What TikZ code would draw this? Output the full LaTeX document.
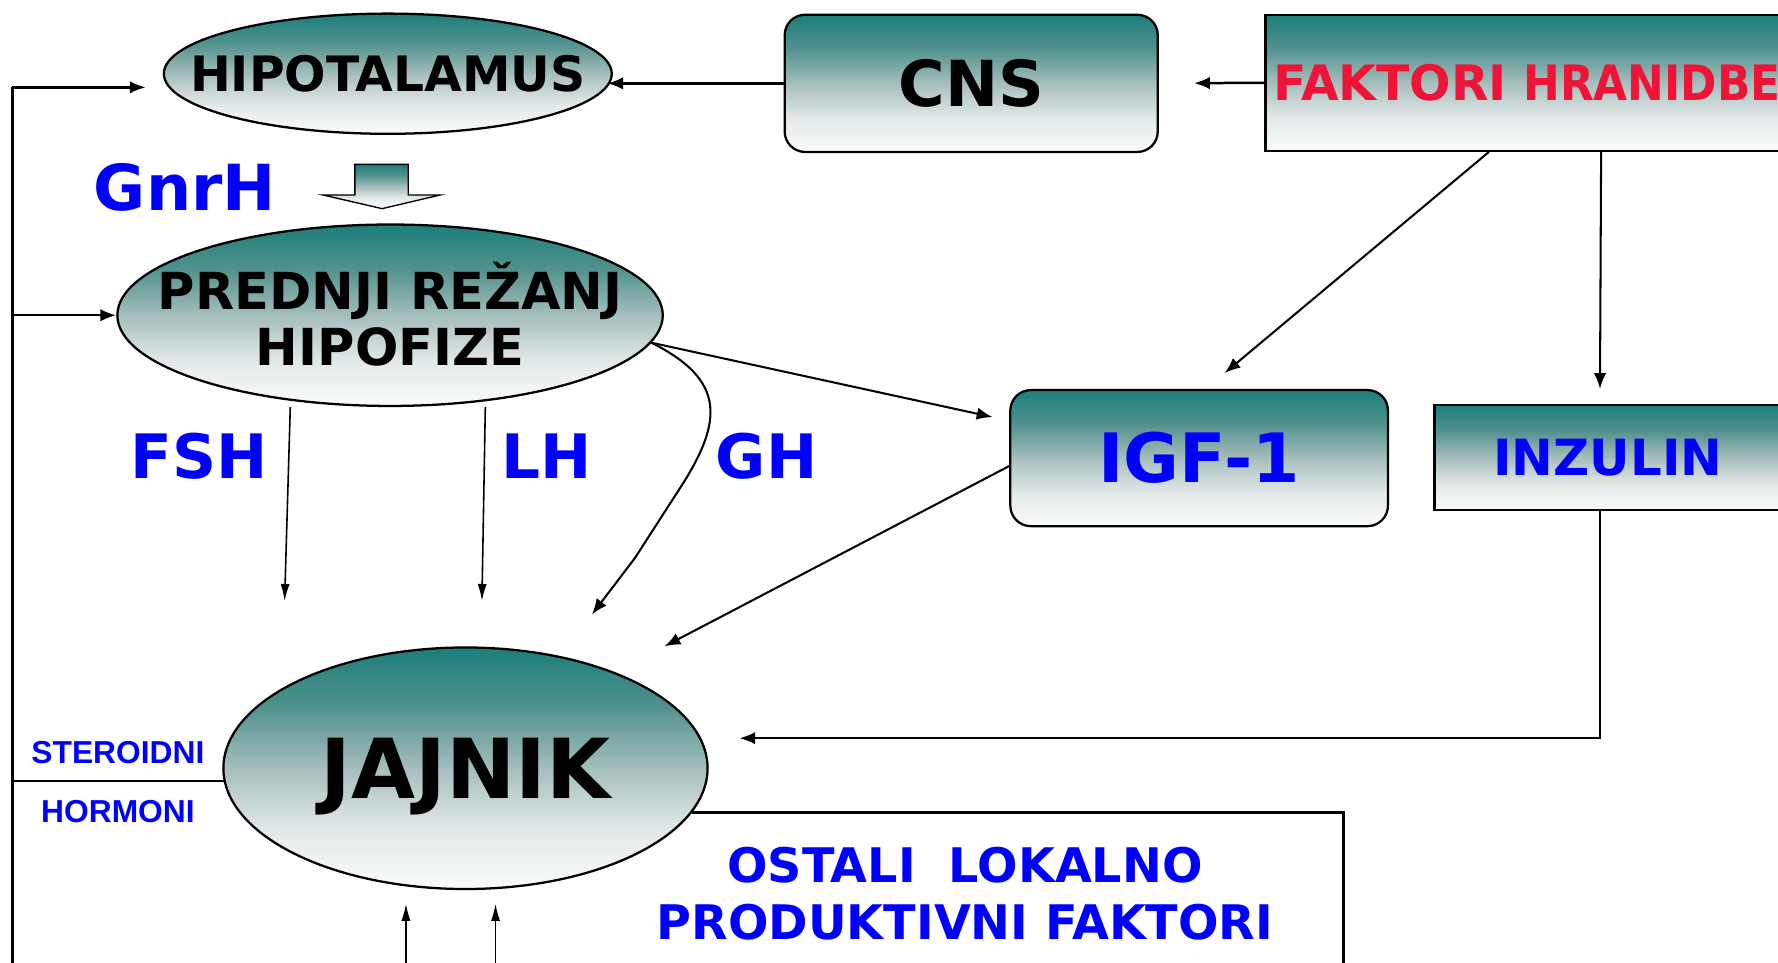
\documentclass[tikz,border=0pt]{standalone}
\usepackage{fontspec}
\setmainfont{DejaVu Sans}
\newfontfamily\arialfont{Liberation Sans}
\newfontfamily\narrowfont{DejaVu Sans}[FakeStretch=0.9]
\usetikzlibrary{shapes.geometric,arrows.meta}

\definecolor{tealtop}{RGB}{28,126,122}
\definecolor{tealq}{RGB}{82,146,142}
\definecolor{tealmid}{RGB}{165,190,188}
\definecolor{teallow}{RGB}{226,232,232}
\definecolor{tealbot}{RGB}{251,252,252}
\definecolor{hblue}{RGB}{0,0,255}
\definecolor{hred}{RGB}{238,20,55}
\newcommand{\setfs}[2]{\bfseries\fontsize{#1}{#2}\selectfont}
\pgfdeclareverticalshading{tealfade}{100bp}{color(0bp)=(tealbot); color(25bp)=(tealbot);
    color(37.5bp)=(teallow); color(50bp)=(tealmid); color(62.5bp)=(tealq);
    color(75bp)=(tealtop); color(100bp)=(tealtop)}

\tikzset{
    shaded/.style={draw, line width=2pt, shading=tealfade},
    ell/.style={shaded, ellipse, inner sep=0pt},
    rbox/.style={shaded, rectangle, rounded corners=18pt, inner sep=0pt},
    sbox/.style={shaded, rectangle, inner sep=0pt},
    hormone/.style={text=hblue, font=\setfs{54}{54}},
    wire/.style={line width=2.2pt},
    midwire/.style={line width=1.8pt},
    finewire/.style={line width=1.4pt},
    arrowtip/.style={-{Latex[length=14pt,width=11pt]}},
    thintip/.style={-{Latex[length=15pt,width=8pt]}}
}

\begin{document}
\begin{tikzpicture}[x=1pt, y=-1pt]
    \clip (0,0) rectangle (1568,849);

    % ellipses
    \node[ell, minimum width=395pt, minimum height=106pt,
        label={[font=\setfs{43}{43}]center:HIPOTALAMUS}] at (342, 65)(hipo){};
    \node[ell, minimum width=481pt, minimum height=160pt,
        label={[font=\setfs{45}{50}, align=center, yshift=1pt]center:PREDNJI REŽANJ\\HIPOFIZE}] at (344, 278)(pred){};
    \node[ell, minimum width=427pt, minimum height=213pt,
        label={[font=\setfs{73}{73}, yshift=-7pt]center:JAJNIK}] at (410.5, 677.5)(jaj){};

    % boxes
    \node[rbox, minimum width=329pt, minimum height=121pt, font=\setfs{56}{56}] at (856.5, 73.5)(cns){CNS};
    \node[sbox, anchor=west, minimum width=490pt, minimum height=120pt, inner xsep=7pt,
        text width=476pt, align=left, text=hred, font=\setfs{43}{43}] at (1115, 73)(fakt){FAKTORI {\narrowfont HRANIDBE}};
    \node[rbox, minimum width=333pt, minimum height=120pt, text=hblue, font=\setfs{60}{60}] at (1057.5, 404)(igf){IGF-1};
    \node[sbox, minimum width=306pt, minimum height=93pt, text=hblue, font=\setfs{44}{44}] at (1418, 403.5)(inz){INZULIN};

    % texts
    \node[text=hblue, font=\setfs{56}{56}] at (163, 165)(gnrh){GnrH};
    \node[hormone] at (176, 402)(fsh){FSH};
    \node[hormone] at (482, 402)(lh){LH};
    \node[hormone] at (676, 402)(gh){GH};
    \node[text=hblue, font=\arialfont\setfs{28}{28}] at (104, 664)(ster){STEROIDNI};
    \node[text=hblue, font=\arialfont\setfs{28}{28}] at (104, 716)(horm){HORMONI};
    \node[text=hblue, align=center, font=\setfs{42}{50}] at (851, 788)(ostali){OSTALI\ \ LOKALNO\\PRODUKTIVNI FAKTORI};

    % GnrH block arrow
    \draw[line width=1.2pt, shading=tealfade]
        (313,145) -- (360,145) -- (360,172) -- (388,172) -- (337,184)
        -- (285,172) -- (313,172) -- cycle;

    % free ends
    \coordinate (fbtop) at (11, 77);
    \coordinate (fbbot) at (11, 860);
    \coordinate (fshin) at (251, 530);
    \coordinate (lhin) at (425, 530);
    \coordinate (ghin) at (522, 542);
    \coordinate (faktigf) at (1080, 329);
    \coordinate (faktinz) at (1411, 343);
    \coordinate (igfjaj) at (586, 570);
    \coordinate (inzjaj) at (652, 651);
    \coordinate (ostbot) at (1185, 860);
    \coordinate (upa) at (358, 860);
    \coordinate (upb) at (437, 860);
    \coordinate (upaend) at (358, 797);
    \coordinate (upbend) at (437, 797);

    % connectors
    \draw[wire, arrowtip, shorten >=31pt] (fakt.west) -- (cns.east);
    \draw[wire, arrowtip, shorten >=-5pt] (cns.west) -- (hipo.east |- cns.west);
    \draw[wire] (fbtop) -- (fbbot);
    \draw[wire, arrowtip, shorten >=15pt] (fbtop) -- (hipo.west |- fbtop);
    \draw[wire, arrowtip] (fbtop |- pred.west) -- (pred.west);
    \draw[wire] (jaj.183.5) -- (jaj.183.5 -| fbtop);

    \draw[finewire, thintip] ([xshift=-88pt]pred.south) -- (fshin);
    \draw[finewire, thintip] ([xshift=84pt]pred.south) -- (lhin);
    \draw[midwire, arrowtip] (pred.-6) .. controls (640,335) and (638,371) .. (600,430)
        -- (560,492) -- (ghin);
    \draw[midwire, arrowtip, shorten >=15pt] (pred.-6) -- ([yshift=33pt]igf.west);

    \draw[midwire, arrowtip] ([xshift=-48pt]fakt.south) -- (faktigf);
    \draw[midwire, arrowtip] ([xshift=51pt]fakt.south) -- (faktinz);
    \draw[midwire, arrowtip] ([yshift=-7pt]igf.west) -- (igfjaj);
    \draw[wire, arrowtip] ([xshift=-7pt]inz.south) |- (inzjaj);
    \draw[wire] (jaj.-11.4) -| (ostbot);

    \draw[finewire, thintip] (upa) -- (upaend);
    \draw[finewire, thintip] (upb) -- (upbend);
\end{tikzpicture}
\end{document}
